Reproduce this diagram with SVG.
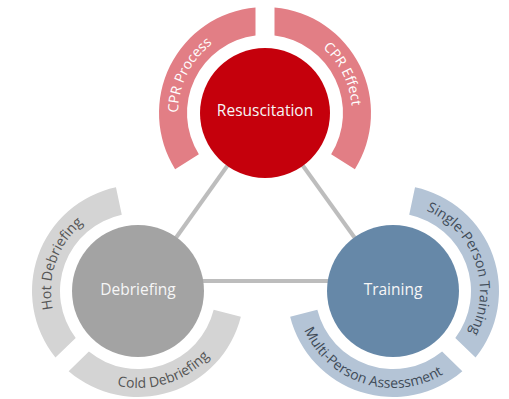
<svg xmlns="http://www.w3.org/2000/svg" xmlns:xlink="http://www.w3.org/1999/xlink" width="509" height="399" viewBox="0 0 509 399">
<style>
.conn{stroke:#bdbdbd;stroke-width:4;fill:none}
.node{font-family:"Open Sans","Noto Sans",sans-serif;font-size:15.5px;text-anchor:middle;fill:#f6f6f6}
.lab{font-family:"Open Sans","Noto Sans",sans-serif;font-size:14px}
.r-arc{fill:#e27e85}.r-lab{fill:#ffffff}
.d-arc{fill:#d4d4d4}.d-lab{fill:#555555}
.t-arc{fill:#b4c4d6}.t-lab{fill:#3f4b58}
</style>
<defs>
<path id="arcL" d="M -89.89 56.17 A 106 106 0 0 1 -9.5 -105.57 L -9.5 -77.42 A 78 78 0 0 0 -66.14 41.33 Z"/>
<path id="arcR" d="M 9.5 -105.57 A 106 106 0 0 1 89.89 56.17 L 66.14 41.33 A 78 78 0 0 0 9.5 -77.42 Z"/>
<path id="tLcw" d="M -73.78 46.10 A 87 87 0 0 1 -7.58 -86.67"/>
<path id="tRcw" d="M 7.58 -86.67 A 87 87 0 0 1 73.78 46.10"/>
<path id="tLccw" d="M -8.45 -96.63 A 97 97 0 0 0 -82.26 51.40"/>
<path id="tRccw" d="M 82.26 51.40 A 97 97 0 0 0 8.45 -96.63"/>
</defs>
<g id="connectors">
<line class="conn" x1="265" y1="113" x2="138" y2="291"/>
<line class="conn" x1="265" y1="113" x2="393" y2="291"/>
<line class="conn" x1="138" y1="281" x2="393" y2="281"/>
</g>
<g id="resuscitation" transform="translate(265,113)">
<g id="cpr-process"><use xlink:href="#arcL" class="r-arc"/><text class="lab r-lab"><textPath xlink:href="#tLcw" startOffset="50%" text-anchor="middle">CPR Process</textPath></text></g>
<g id="cpr-effect"><use xlink:href="#arcR" class="r-arc"/><text class="lab r-lab"><textPath xlink:href="#tRcw" startOffset="50%" text-anchor="middle">CPR Effect</textPath></text></g>
<circle r="65" fill="#c5000c"/>
<text class="node" y="3">Resuscitation</text>
</g>
<g id="debriefing" transform="translate(138,291)">
<g transform="rotate(-134)">
<g id="cold-debriefing"><use xlink:href="#arcL" class="d-arc"/><text class="lab d-lab"><textPath xlink:href="#tLccw" startOffset="50%" text-anchor="middle">Cold Debriefing</textPath></text></g>
<g id="hot-debriefing"><use xlink:href="#arcR" class="d-arc"/><text class="lab d-lab"><textPath xlink:href="#tRcw" startOffset="50%" text-anchor="middle">Hot Debriefing</textPath></text></g>
</g>
<circle r="66" fill="#a3a3a3"/>
<text class="node" y="4">Debriefing</text>
</g>
<g id="training" transform="translate(393,291)">
<g transform="rotate(134)">
<g id="single-person-training"><use xlink:href="#arcL" class="t-arc"/><text class="lab t-lab"><textPath xlink:href="#tLcw" startOffset="50%" text-anchor="middle">Single-Person Training</textPath></text></g>
<g id="multi-person-assessment"><use xlink:href="#arcR" class="t-arc"/><text class="lab t-lab"><textPath xlink:href="#tRccw" startOffset="50%" text-anchor="middle">Multi-Person Assessment</textPath></text></g>
</g>
<circle r="66" fill="#6688a8"/>
<text class="node" y="4">Training</text>
</g>
</svg>
